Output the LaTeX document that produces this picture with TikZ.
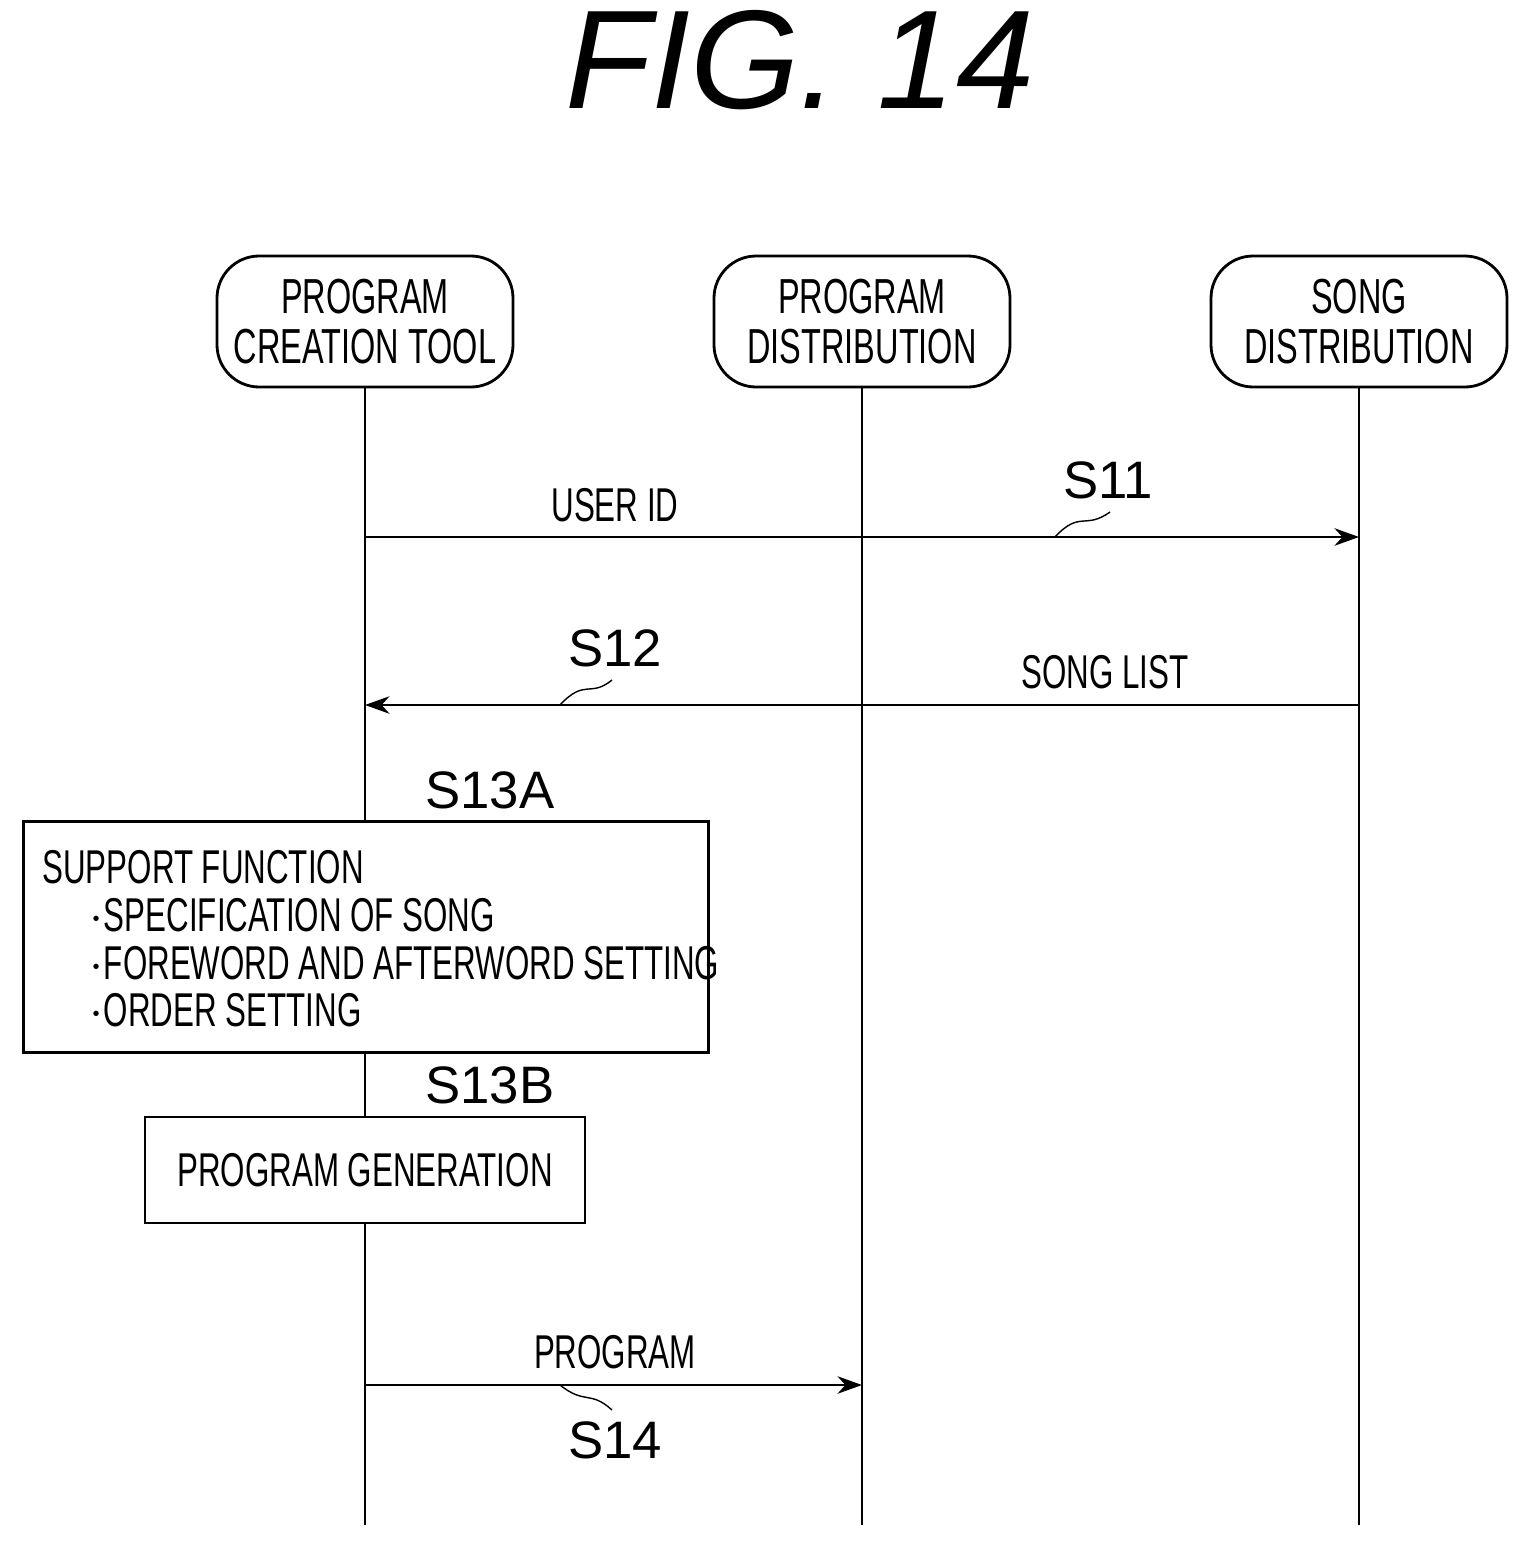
\documentclass[tikz,border=0pt]{standalone}
\usepackage{fontspec}
\setmainfont{Liberation Sans}
\newfontfamily\narrowfont[FakeStretch=0.66]{Liberation Sans}
\usetikzlibrary{positioning,arrows.meta}
\tikzset{
  party/.style={draw,rounded corners=12pt,thick,minimum width=2.96cm,minimum height=1.31cm,align=center,font=\narrowfont\fontsize{14}{15}\selectfont},
  procbox/.style={draw,thick},
  msg/.style={font=\narrowfont\fontsize{13.5}{13.6}\selectfont},
  tag/.style={font=\fontsize{15}{17}\selectfont},
  life/.style={thin},
  squig/.style={thin}
}
\begin{document}
\begin{tikzpicture}[x=1cm,y=-1cm,>={Stealth[length=7pt,width=5pt]}]
\useasboundingbox (0,0) rectangle (15.30,15.47);
\node[font=\itshape\fontsize{40}{42}\selectfont] (title) at (8.0,0.6) {FIG. 14};
% parties
\node[party] (tool) at (3.65,3.215) {PROGRAM\\[-1pt]CREATION TOOL};
\node[party] (pdist) at (8.62,3.215) {PROGRAM\\[-1pt]DISTRIBUTION};
\node[party] (sdist) at (13.59,3.215) {SONG\\[-1pt]DISTRIBUTION};
\coordinate (toolend) at (3.65,15.25);
\coordinate (pdistend) at (8.62,15.25);
\coordinate (sdistend) at (13.59,15.25);
\draw[life] (tool) -- (toolend);
\draw[life] (pdist) -- (pdistend);
\draw[life] (sdist) -- (sdistend);
% S11
\coordinate (a1) at (3.65,5.37);
\coordinate (b1) at (13.59,5.37);
\draw[->] (a1) -- (b1);
\node[msg] (userid) at (6.15,5.05) {USER ID};
\node[tag] (s11) at (11.08,4.8) {S11};
\draw[squig] (10.55,5.37) .. controls (10.8,5.1) and (10.85,5.3) .. (11.1,5.12);
% S12
\coordinate (a2) at (13.59,7.05);
\coordinate (b2) at (3.65,7.05);
\draw[->] (a2) -- (b2);
\node[msg] (songlist) at (11.05,6.72) {SONG LIST};
\node[tag] (s12) at (6.15,6.48) {S12};
\draw[squig] (5.6,7.05) .. controls (5.85,6.78) and (5.9,6.98) .. (6.12,6.8);
% S13A
\node[tag] (s13a) at (4.9,7.9) {S13A};
\node[procbox,fill=white,minimum width=6.85cm,minimum height=2.31cm,anchor=north west,inner sep=0pt] (support) at (0.22,8.2) {};
\node[msg,align=left,anchor=north west] (supporttxt) at (0.3,8.38) {SUPPORT FUNCTION\\
\hspace*{1em}$\cdot$SPECIFICATION OF SONG\\
\hspace*{1em}$\cdot$FOREWORD AND AFTERWORD SETTING\\
\hspace*{1em}$\cdot$ORDER SETTING};
% S13B
\node[tag] (s13b) at (4.9,10.85) {S13B};
\node[procbox,fill=white,minimum width=4.4cm,minimum height=1.06cm,msg] (gen) at (3.65,11.7) {PROGRAM GENERATION};
% S14
\coordinate (a3) at (3.65,13.85);
\coordinate (b3) at (8.62,13.85);
\draw[->] (a3) -- (b3);
\node[msg] (prog) at (6.15,13.52) {PROGRAM};
\node[tag] (s14) at (6.15,14.4) {S14};
\draw[squig] (5.6,13.85) .. controls (5.85,14.05) and (5.9,13.9) .. (6.12,14.1);
\end{tikzpicture}
\end{document}
